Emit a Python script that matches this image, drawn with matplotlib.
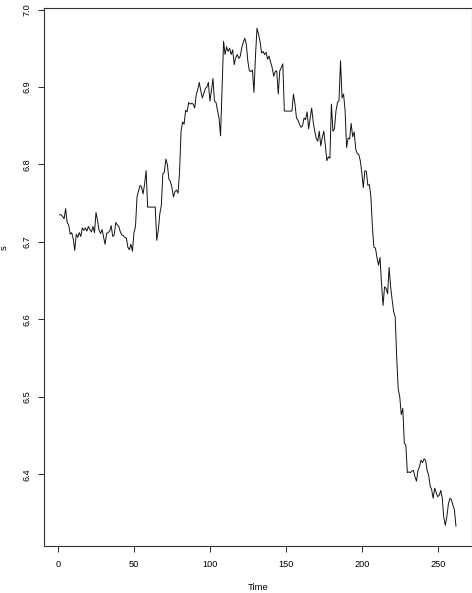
import matplotlib
matplotlib.use("Agg")
import matplotlib.pyplot as plt
import numpy as np

# time index
time = list(range(1, 263))

# series values s
s_01_50 = [6.735, 6.735, 6.733, 6.730, 6.743, 6.725, 6.722, 6.710, 6.712, 6.704,
           6.689, 6.710, 6.706, 6.712, 6.707, 6.718, 6.715, 6.718, 6.714, 6.720,
           6.716, 6.713, 6.720, 6.712, 6.738, 6.728, 6.715, 6.711, 6.716, 6.706,
           6.697, 6.711, 6.712, 6.714, 6.721, 6.707, 6.709, 6.725, 6.722, 6.720,
           6.713, 6.709, 6.708, 6.706, 6.705, 6.693, 6.690, 6.697, 6.688, 6.712]
s_51_100 = [6.720, 6.758, 6.766, 6.773, 6.771, 6.762, 6.775, 6.792, 6.745, 6.745,
            6.745, 6.745, 6.745, 6.745, 6.702, 6.715, 6.736, 6.747, 6.788, 6.790,
            6.807, 6.800, 6.781, 6.778, 6.770, 6.758, 6.765, 6.767, 6.763, 6.790,
            6.843, 6.855, 6.852, 6.870, 6.868, 6.880, 6.878, 6.879, 6.878, 6.873,
            6.890, 6.897, 6.906, 6.895, 6.886, 6.892, 6.898, 6.900, 6.906, 6.882]
s_101_150 = [6.895, 6.911, 6.882, 6.880, 6.870, 6.860, 6.837, 6.900, 6.959, 6.942,
             6.952, 6.946, 6.950, 6.942, 6.948, 6.929, 6.938, 6.942, 6.937, 6.940,
             6.951, 6.958, 6.963, 6.955, 6.933, 6.921, 6.920, 6.922, 6.893, 6.940,
             6.976, 6.968, 6.959, 6.944, 6.946, 6.942, 6.945, 6.936, 6.940, 6.932,
             6.925, 6.914, 6.920, 6.921, 6.891, 6.921, 6.925, 6.930, 6.869, 6.869]
s_151_200 = [6.869, 6.869, 6.869, 6.869, 6.891, 6.878, 6.860, 6.857, 6.852, 6.848,
             6.850, 6.860, 6.858, 6.868, 6.846, 6.860, 6.873, 6.855, 6.843, 6.834,
             6.830, 6.843, 6.824, 6.835, 6.843, 6.825, 6.805, 6.810, 6.808, 6.878,
             6.843, 6.846, 6.869, 6.880, 6.882, 6.934, 6.886, 6.891, 6.870, 6.822,
             6.834, 6.833, 6.853, 6.836, 6.842, 6.820, 6.814, 6.813, 6.805, 6.790]
s_201_262 = [6.770, 6.792, 6.791, 6.773, 6.774, 6.758, 6.719, 6.693, 6.692, 6.680,
             6.670, 6.680, 6.646, 6.618, 6.642, 6.640, 6.633, 6.667, 6.642, 6.625,
             6.610, 6.603, 6.550, 6.510, 6.500, 6.477, 6.485, 6.440, 6.438, 6.402,
             6.403, 6.402, 6.404, 6.405, 6.397, 6.391, 6.405, 6.410, 6.418, 6.415,
             6.420, 6.418, 6.405, 6.399, 6.385, 6.380, 6.369, 6.382, 6.376, 6.371,
             6.373, 6.379, 6.369, 6.344, 6.334, 6.345, 6.361, 6.369, 6.367, 6.360,
             6.354, 6.333]
s = s_01_50 + s_51_100 + s_101_150 + s_151_200 + s_201_262

x_ticks = [0, 50, 100, 150, 200, 250]
y_ticks = [6.4, 6.5, 6.6, 6.7, 6.8, 6.9, 7.0]

plt.rcParams['font.family'] = ['Liberation Sans', 'DejaVu Sans']

W, H = 472, 593
fig = plt.figure(figsize=(W / 100, H / 100), dpi=100)
left, right, top, bottom = 43.7, 471.8, 8.3, 546.0
ax = fig.add_axes([left / W, (H - bottom) / H, (right - left) / W, (bottom - top) / H])

ax.plot(time, s, color='#111111', lw=0.7)

# R-style 4% padding
xr = max(time) - min(time)
ax.set_xlim(min(time) - 0.04 * xr, max(time) + 0.04 * xr)
yr = max(s) - min(s)
ax.set_ylim(min(s) - 0.04 * yr, max(s) + 0.04 * yr)

ax.set_xticks(x_ticks)
ax.set_xticklabels([str(v) for v in x_ticks])
ax.set_yticks(y_ticks)
ax.set_yticklabels([f"{v:.1f}" for v in y_ticks], rotation=90, va='center')

ax.tick_params(axis='both', direction='out', length=4.5, width=0.6, labelsize=6.6, colors='black')
ax.tick_params(axis='x', pad=5.5)
ax.tick_params(axis='y', pad=4.0)
for sp in ax.spines.values():
    sp.set_linewidth(0.8)
    sp.set_color('#333333')

fig.text(0.5 * (left + right) / W, 1 - 587 / H, "Time", ha='center', va='center', fontsize=6.8)
fig.text(4.5 / W, 1 - 248 / H, "s", ha='center', va='center', rotation=90, fontsize=6.8)

fig.savefig("out.png", dpi=100)
